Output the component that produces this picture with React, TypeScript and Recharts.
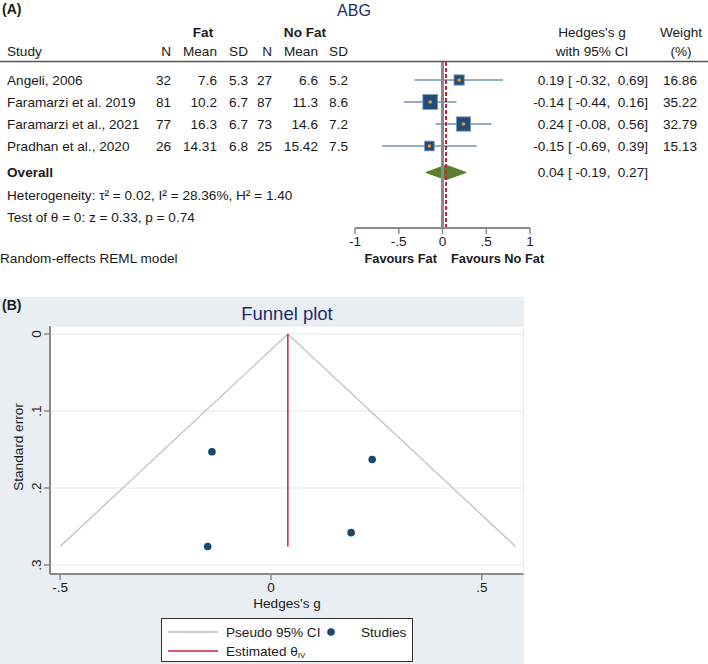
import React from 'react'
import {
  ComposedChart, Scatter, XAxis, YAxis, ReferenceLine, ReferenceArea, ErrorBar, CartesianGrid,
} from 'recharts'

const STUDY = ['Angeli, 2006', 'Faramarzi et al. 2019', 'Faramarzi et al., 2021', 'Pradhan et al., 2020']
const FAT_N = [32, 81, 77, 26]
const FAT_MEAN = [7.6, 10.2, 16.3, 14.31]
const FAT_SD = [5.3, 6.7, 6.7, 6.8]
const NOFAT_N = [27, 87, 73, 25]
const NOFAT_MEAN = [6.6, 11.3, 14.6, 15.42]
const NOFAT_SD = [5.2, 8.6, 7.2, 7.5]
const HEDGES_G = [0.19, -0.14, 0.24, -0.15]
const CI_LOW = [-0.32, -0.44, -0.08, -0.69]
const CI_HIGH = [0.69, 0.16, 0.56, 0.39]
const WEIGHT = [16.86, 35.22, 32.79, 15.13]
const OVERALL = [0.04, -0.19, 0.27] // estimate, low, high
const STD_ERR = [0.258, 0.153, 0.163, 0.276]

const FOREST_TICKS = [-1, -0.5, 0, 0.5, 1]
const FUNNEL_X_TICKS = [-0.5, 0, 0.5]
const FUNNEL_Y_TICKS = [0, 0.1, 0.2, 0.3]
const PSEUDO_CI_X = [-0.5, 0.04, 0.58]
const PSEUDO_CI_SE = [0.276, 0, 0.276]
const THETA_SE = [0, 0.276]

const FONT = '"Liberation Sans", Arial, Helvetica, sans-serif'
const FS = 13.6
const NAVY = '#1a476f'
const TITLE_BLUE = '#1c2d6b'
const RED = '#d0213c'
const AXIS_GREY = '#8a8a8a'

// forest plot rows: studies 1..4, overall a bit lower
const OVERALL_ROW = 5.2
const ROW_MIN = 0.136
const ROW_MAX = 7.727
const rowY = (r: number) => 61 + ((r - ROW_MIN) * 167) / (ROW_MAX - ROW_MIN)

const stataFmt = (v: number) => {
  if (v === 0) return '0'
  const s = String(Math.abs(v)).replace(/^0\./, '.')
  return (v < 0 ? '-' : '') + s
}
const pad = (v: number) => v.toFixed(2).padStart(6, ' ')
const ciText = (g: number, lo: number, hi: number) => `${g.toFixed(2)} [${pad(lo)},${pad(hi)}]`

const forestData = STUDY.map((s, i) => ({
  name: s,
  x: HEDGES_G[i],
  y: i + 1,
  w: WEIGHT[i],
  err: [HEDGES_G[i] - CI_LOW[i], CI_HIGH[i] - HEDGES_G[i]],
}))

const studyPoints = HEDGES_G.map((g, i) => ({ x: g, y: STD_ERR[i] }))
const pseudoCi = PSEUDO_CI_X.map((x, i) => ({ x, y: PSEUDO_CI_SE[i] }))
const thetaLine = THETA_SE.map((y) => ({ x: OVERALL[0], y }))

const WeightedSquare = (props: any) => {
  const { cx, cy, payload } = props
  const s = 2.5 * Math.sqrt(payload.w)
  return (
    <g>
      <rect x={cx - s / 2} y={cy - s / 2} width={s} height={s} fill="#1f4d7b" stroke="#7f9cbc" strokeWidth={0.8} />
      <circle cx={cx} cy={cy} r={1.8} fill="#f39a1e" />
    </g>
  )
}

const Diamond = (props: any) => {
  const { x, y, width, height } = props
  const h = Math.abs(height)
  const top = Math.min(y, y + height)
  const pts = [
    [x, top + h / 2], [x + width / 2, top], [x + width, top + h / 2], [x + width / 2, top + h],
  ].map((p) => p.join(',')).join(' ')
  return <polygon points={pts} fill="#5b7f2e" stroke="#5b7f2e" />
}

const StudyDot = (props: any) => <circle cx={props.cx} cy={props.cy} r={3.8} fill={NAVY} />
const NoMark = () => <g />

const RotatedTick = (props: any) => {
  const { x, y, payload } = props
  return (
    <text x={x} y={y} transform={`rotate(-90 ${x} ${y})`} textAnchor="middle" fontSize={FS} fill="#222" fontFamily={FONT}>
      {stataFmt(payload.value)}
    </text>
  )
}

const NUM_COLS = [171, 217, 248, 272, 318, 348]
const HEAD_COLS = ['N', 'Mean', 'SD', 'N', 'Mean', 'SD']

function Overlay() {
  const t = { fontFamily: FONT, fontSize: FS, fill: '#1a1a1a', dominantBaseline: 'central' as const }
  return (
    <svg width={708} height={664} style={{ position: 'absolute', left: 0, top: 0, pointerEvents: 'none' }}>
      <text x={2} y={9} {...t} fontSize={14} fontWeight="bold">(A)</text>
      <text x={354} y={10} {...t} fontSize={16} fill={TITLE_BLUE} textAnchor="middle">ABG</text>

      <text x={203} y={32} {...t} fontWeight="bold" textAnchor="middle">Fat</text>
      <text x={305} y={32} {...t} fontWeight="bold" textAnchor="middle">No Fat</text>
      <text x={592} y={32} {...t} textAnchor="middle">Hedges's g</text>
      <text x={681} y={32} {...t} textAnchor="middle">Weight</text>

      <text x={7} y={51} {...t}>Study</text>
      {HEAD_COLS.map((h, i) => (
        <text key={i} x={NUM_COLS[i]} y={51} {...t} textAnchor="end">{h}</text>
      ))}
      <text x={592} y={51} {...t} textAnchor="middle">with 95% CI</text>
      <text x={681} y={51} {...t} textAnchor="middle">(%)</text>
      <line x1={0} x2={708} y1={61.5} y2={61.5} stroke="#555" strokeWidth={1.5} />

      {STUDY.map((s, i) => {
        const y = rowY(i + 1)
        const cells = [FAT_N[i], FAT_MEAN[i], FAT_SD[i], NOFAT_N[i], NOFAT_MEAN[i], NOFAT_SD[i]]
        return (
          <g key={s}>
            <text x={7} y={y} {...t}>{s}</text>
            {cells.map((c, j) => (
              <text key={j} x={NUM_COLS[j]} y={y} {...t} textAnchor="end">{String(c)}</text>
            ))}
            <text x={648} y={y} {...t} textAnchor="end" style={{ whiteSpace: 'pre' }}>
              {ciText(HEDGES_G[i], CI_LOW[i], CI_HIGH[i])}
            </text>
            <text x={697} y={y} {...t} textAnchor="end">{WEIGHT[i].toFixed(2)}</text>
          </g>
        )
      })}
      <text x={7} y={rowY(OVERALL_ROW)} {...t} fontWeight="bold">Overall</text>
      <text x={648} y={rowY(OVERALL_ROW)} {...t} textAnchor="end" style={{ whiteSpace: 'pre' }}>
        {ciText(OVERALL[0], OVERALL[1], OVERALL[2])}
      </text>
      <text x={7} y={195} {...t}>Heterogeneity: τ² = 0.02, I² = 28.36%, H² = 1.40</text>
      <text x={7} y={217} {...t}>Test of θ = 0: z = 0.33, p = 0.74</text>
      <text x={0} y={258} {...t}>Random-effects REML model</text>
      <text x={437} y={258} {...t} fontSize={12.8} fontWeight="bold" textAnchor="end">Favours Fat</text>
      <text x={451} y={258} {...t} fontSize={12.8} fontWeight="bold">Favours No Fat</text>

      <text x={2} y={305} {...t} fontSize={14} fontWeight="bold">(B)</text>
      <text x={287} y={313} {...t} fontSize={18.5} fill={TITLE_BLUE} textAnchor="middle">Funnel plot</text>
      <text x={18} y={447} {...t} textAnchor="middle" transform="rotate(-90 18 447)">Standard error</text>
      <text x={287} y={603} {...t} textAnchor="middle">Hedges's g</text>
      <line x1={523.5} x2={523.5} y1={326} y2={574} stroke="#e2e8ef" strokeWidth={1} />

      <rect x={161.5} y={618.5} width={251} height={43} fill="#fff" stroke="#333" strokeWidth={1} />
      <line x1={168} x2={218} y1={632} y2={632} stroke="#bdbdbd" strokeWidth={1.5} />
      <text x={226} y={632} {...t}>Pseudo 95% CI</text>
      <circle cx={331} cy={632} r={3.8} fill={NAVY} />
      <text x={361} y={632} {...t}>Studies</text>
      <line x1={168} x2={218} y1={651} y2={651} stroke={RED} strokeWidth={1.5} />
      <text x={226} y={651} {...t}>
        Estimated θ<tspan fontSize={8} dy={4}>IV</tspan>
      </text>
    </svg>
  )
}

export default function App() {
  return (
    <div style={{ position: 'absolute', left: 0, top: 0, width: 708, height: 664, background: '#fff', fontFamily: FONT }}>
      <div style={{ position: 'absolute', left: 0, top: 297, width: 524, height: 367, background: '#e9eef3' }} />

      <div style={{ position: 'absolute', left: 0, top: 0 }}>
        <ComposedChart width={708} height={280} margin={{ top: 61, right: 178, bottom: 22, left: 355 }}>
          <XAxis
            type="number"
            dataKey="x"
            domain={[-1, 1]}
            ticks={FOREST_TICKS}
            tickFormatter={stataFmt}
            height={30}
            allowDataOverflow
            axisLine={{ stroke: AXIS_GREY, strokeWidth: 2 }}
            tickLine={{ stroke: AXIS_GREY, strokeWidth: 1.5 }}
            tickSize={6}
            tickMargin={2}
            tick={{ fill: '#1a1a1a', fontSize: FS, fontFamily: FONT }}
          />
          <YAxis type="number" dataKey="y" domain={[ROW_MIN, ROW_MAX]} reversed hide allowDataOverflow />
          <ReferenceArea
            x1={OVERALL[1]}
            x2={OVERALL[2]}
            y1={OVERALL_ROW - 0.33}
            y2={OVERALL_ROW + 0.33}
            shape={Diamond}
            ifOverflow="visible"
          />
          <Scatter data={forestData} shape={WeightedSquare} isAnimationActive={false}>
            <ErrorBar dataKey="err" direction="x" width={0} stroke="#2c5b8c" strokeWidth={1} />
          </Scatter>
          <ReferenceLine x={0} stroke={AXIS_GREY} strokeWidth={3} />
          <ReferenceLine x={OVERALL[0]} stroke={RED} strokeWidth={2} strokeDasharray="4 2" />
        </ComposedChart>
      </div>

      <div style={{ position: 'absolute', left: 0, top: 297 }}>
        <ComposedChart width={524} height={367} margin={{ top: 29, right: 0, bottom: 60, left: 0 }}>
          <CartesianGrid horizontal vertical={false} fill="#fff" stroke="#e2e8ef" />
          <XAxis
            type="number"
            dataKey="x"
            domain={[-0.524, 0.6]}
            ticks={FUNNEL_X_TICKS}
            tickFormatter={stataFmt}
            height={30}
            allowDataOverflow
            axisLine={{ stroke: AXIS_GREY, strokeWidth: 2 }}
            tickLine={{ stroke: AXIS_GREY, strokeWidth: 1.5 }}
            tickSize={6}
            tickMargin={2}
            tick={{ fill: '#1a1a1a', fontSize: FS, fontFamily: FONT }}
          />
          <YAxis
            type="number"
            dataKey="y"
            domain={[-0.0104, 0.3117]}
            reversed
            ticks={FUNNEL_Y_TICKS}
            width={50}
            allowDataOverflow
            axisLine={{ stroke: AXIS_GREY, strokeWidth: 2 }}
            tickLine={{ stroke: AXIS_GREY, strokeWidth: 1.5 }}
            tickSize={6}
            tickMargin={3}
            tick={<RotatedTick />}
          />
          <Scatter data={pseudoCi} line={{ stroke: '#bdbdbd', strokeWidth: 1.2 }} shape={NoMark} isAnimationActive={false} />
          <Scatter data={thetaLine} line={{ stroke: RED, strokeWidth: 1.5 }} shape={NoMark} isAnimationActive={false} />
          <Scatter data={studyPoints} shape={StudyDot} isAnimationActive={false} />
        </ComposedChart>
      </div>

      <Overlay />
    </div>
  )
}
